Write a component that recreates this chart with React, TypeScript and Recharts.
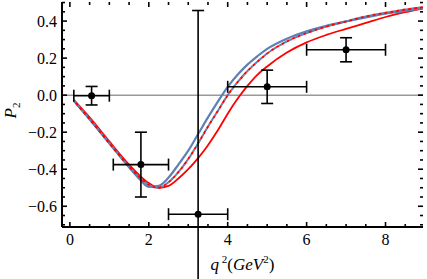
import { ComposedChart, Line, Scatter, ErrorBar, XAxis, YAxis, ReferenceLine, Label } from "recharts"

// q^2 grid shared by the three model curves
const q2Grid = [0.1, 0.5, 1, 1.5, 1.75, 2, 2.25, 2.5, 2.75, 3, 3.25, 3.5, 3.75, 4, 4.25, 4.5, 4.75, 5, 5.5, 6, 6.5, 7, 7.5, 8, 8.5, 8.95]
const p2Blue = [-0.03, -0.13, -0.26, -0.39, -0.45, -0.495, -0.49, -0.445, -0.375, -0.3, -0.21, -0.12, -0.035, 0.045, 0.11, 0.165, 0.21, 0.25, 0.305, 0.345, 0.375, 0.398, 0.42, 0.44, 0.455, 0.47]
const p2Red = [-0.025, -0.12, -0.25, -0.375, -0.43, -0.475, -0.5, -0.49, -0.45, -0.4, -0.34, -0.27, -0.19, -0.1, -0.02, 0.05, 0.11, 0.155, 0.23, 0.285, 0.325, 0.358, 0.39, 0.422, 0.448, 0.468]
const p2Dashed = [-0.03, -0.13, -0.26, -0.385, -0.44, -0.485, -0.5, -0.47, -0.415, -0.345, -0.26, -0.17, -0.085, 0.0, 0.07, 0.13, 0.18, 0.225, 0.29, 0.335, 0.37, 0.398, 0.425, 0.445, 0.462, 0.475]

// measured bins
const binCenter = [0.55, 1.8, 3.25, 5.0, 7.0]
const binHalfWidth = [0.45, 0.7, 0.75, 1.0, 1.0]
const p2Measured = [-0.003, -0.375, -0.643, 0.045, 0.245]
const p2Error = [0.05, 0.175, 1.1, 0.09, 0.065]

const xMajor = [0, 2, 4, 6, 8]
const xTicks = Array.from({ length: 18 }, (_, i) => i * 0.5)
const yMajor = [-0.6, -0.4, -0.2, 0, 0.2, 0.4]
const yTicks = Array.from({ length: 25 }, (_, i) => +(-0.7 + i * 0.05).toFixed(2))

const X_DOMAIN: [number, number] = [-0.2, 8.95]
const Y_DOMAIN: [number, number] = [-0.712, 0.503]

// inward tick lengths, in data units (about 5px major / 3px minor)
const X_TICK_LEN = { major: 0.027, minor: 0.016 }
const Y_TICK_LEN = { major: 0.127, minor: 0.076 }

const BLUE = "#5E81B5"
const RED = "#FF0000"
const FONT = "'Liberation Serif', 'DejaVu Serif', serif"

const curve = (ys: number[]) => q2Grid.map((x, i) => ({ x, y: ys[i] }))
const points = binCenter.map((x, i) => ({ x, y: p2Measured[i], ex: binHalfWidth[i], ey: p2Error[i] }))

const isMajor = (v: number, majors: number[]) => majors.includes(Math.round(v * 100) / 100)
const fmtY = (v: number) => v.toFixed(1).replace("-", "\u2212")

const XLabelTick = (props: any) => {
  const v = Math.round(props.payload.value * 100) / 100
  if (!xMajor.includes(v)) return <g />
  return (
    <text x={props.x} y={Number(props.y) + 18} textAnchor="middle" fill="#000" fontSize={16} style={{ fontFamily: FONT }}>
      {String(v)}
    </text>
  )
}

const YLabelTick = (props: any) => {
  const v = Math.round(props.payload.value * 100) / 100
  if (!yMajor.includes(v)) return <g />
  return (
    <text x={Number(props.x) - 5} y={Number(props.y) + 5.5} textAnchor="end" fill="#000" fontSize={16} style={{ fontFamily: FONT }}>
      {fmtY(v)}
    </text>
  )
}

const Dot = (props: any) => <circle cx={props.cx} cy={props.cy} r={3.5} fill="#000" />

const frameTick = (key: string, a: { x: number; y: number }, b: { x: number; y: number }) => (
  <ReferenceLine key={key} segment={[a, b]} stroke="#000" strokeWidth={1.6} ifOverflow="visible" />
)

export default function App() {
  const [y0, y1] = Y_DOMAIN
  const [x0, x1] = X_DOMAIN
  const ticks = [
    ...xTicks.flatMap((v) => {
      const len = isMajor(v, xMajor) ? X_TICK_LEN.major : X_TICK_LEN.minor
      return [
        frameTick(`b${v}`, { x: v, y: y0 }, { x: v, y: y0 + len }),
        frameTick(`t${v}`, { x: v, y: y1 }, { x: v, y: y1 - len }),
      ]
    }),
    ...yTicks.flatMap((v) => {
      const len = isMajor(v, yMajor) ? Y_TICK_LEN.major : Y_TICK_LEN.minor
      return [
        frameTick(`l${v}`, { x: x0, y: v }, { x: x0 + len, y: v }),
        frameTick(`r${v}`, { x: x1, y: v }, { x: x1 - len, y: v }),
      ]
    }),
  ]

  return (
    <div style={{ position: "absolute", left: 0, top: 0, width: 427, height: 279, background: "#fff" }}>
      <ComposedChart width={427} height={279} margin={{ top: 2, right: 4, left: 0, bottom: 0 }}>
        <XAxis
          xAxisId={0}
          type="number"
          dataKey="x"
          domain={X_DOMAIN}
          allowDataOverflow
          ticks={xTicks}
          interval={0}
          height={52}
          tickSize={0}
          tickMargin={0}
          tickLine={false}
          axisLine={{ stroke: "#000", strokeWidth: 2 }}
          tick={XLabelTick}
        >
          <Label
            content={(p: any) => {
              const vb = p.viewBox
              return (
                <text x={vb.x + vb.width / 2} y={vb.y + 43} textAnchor="middle" fontSize={17} style={{ fontFamily: FONT }} fill="#000">
                  <tspan fontStyle="italic">q</tspan>
                  <tspan dy={-7} fontSize={11}> 2</tspan>
                  <tspan dy={7}>(</tspan>
                  <tspan fontStyle="italic">GeV</tspan>
                  <tspan dy={-7} fontSize={11}>2</tspan>
                  <tspan dy={7}>)</tspan>
                </text>
              )
            }}
          />
        </XAxis>
        <XAxis xAxisId="top" orientation="top" type="number" domain={X_DOMAIN} allowDataOverflow height={0} tick={false} tickLine={false} axisLine={{ stroke: "#000", strokeWidth: 2 }} />
        <YAxis
          yAxisId={0}
          type="number"
          dataKey="y"
          domain={Y_DOMAIN}
          allowDataOverflow
          ticks={yTicks}
          interval={0}
          width={62}
          tickSize={0}
          tickMargin={0}
          tickLine={false}
          axisLine={{ stroke: "#000", strokeWidth: 2 }}
          tick={YLabelTick}
        >
          <Label
            content={(p: any) => {
              const vb = p.viewBox
              const cx = 16
              const cy = vb.y + vb.height / 2 - 4
              return (
                <text x={cx} y={cy} transform={`rotate(-90 ${cx} ${cy})`} textAnchor="middle" fontSize={17} style={{ fontFamily: FONT }} fill="#000">
                  <tspan fontStyle="italic">P</tspan>
                  <tspan dy={4} fontSize={11}>2</tspan>
                </text>
              )
            }}
          />
        </YAxis>
        <YAxis yAxisId="right" orientation="right" type="number" domain={Y_DOMAIN} allowDataOverflow width={0} tick={false} tickLine={false} axisLine={{ stroke: "#000", strokeWidth: 2 }} />
        <ReferenceLine y={0} stroke="#999" strokeWidth={1.5} />
        {ticks}
        <Line data={curve(p2Red)} dataKey="y" type="monotone" stroke={RED} strokeWidth={1.8} dot={false} isAnimationActive={false} />
        <Line data={curve(p2Blue)} dataKey="y" type="monotone" stroke={BLUE} strokeWidth={2.2} dot={false} isAnimationActive={false} />
        <Line data={curve(p2Dashed)} dataKey="y" type="monotone" stroke={BLUE} strokeWidth={2} strokeDasharray="3 3" dot={false} isAnimationActive={false} />
        <Line data={curve(p2Dashed)} dataKey="y" type="monotone" stroke={RED} strokeWidth={2} strokeDasharray="3 3" strokeDashoffset={3} dot={false} isAnimationActive={false} />
        <Scatter data={points} dataKey="y" shape={Dot} isAnimationActive={false}>
          <ErrorBar dataKey="ex" direction="x" width={6} stroke="#000" strokeWidth={1.6} />
          <ErrorBar dataKey="ey" direction="y" width={6} stroke="#000" strokeWidth={1.6} />
        </Scatter>
      </ComposedChart>
    </div>
  )
}
